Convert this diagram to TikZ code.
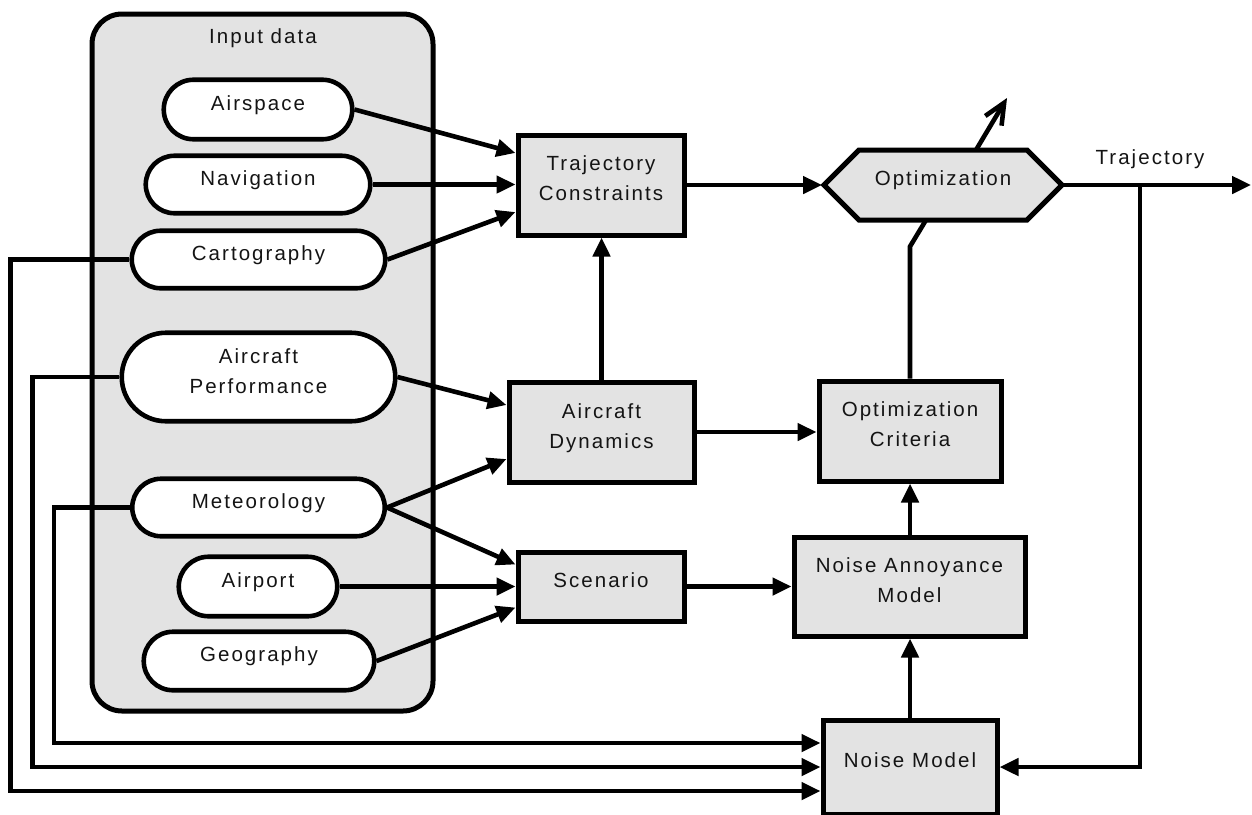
\documentclass[tikz,border=0pt]{standalone}
\usepackage{fontspec}
\setmainfont[LetterSpace=10]{Liberation Sans}
\usetikzlibrary{shapes.misc,arrows.meta,calc}
\definecolor{boxgray}{RGB}{227,227,227}
\definecolor{inkgray}{RGB}{20,20,20}
\begin{document}
\begin{tikzpicture}[x=1pt,y=-1pt,
  every node/.style={font=\fontsize{20.5}{30}\selectfont, text=inkgray},
  oval/.style={rounded rectangle, draw, fill=white, line width=4.6pt, inner sep=0pt},
  blk/.style={rectangle, draw, fill=boxgray, line width=5pt, inner sep=0pt},
  lbl/.style={anchor=base, align=center, inner sep=0pt},
  conn/.style={line width=4.6pt},
  arr/.style={conn, -{Triangle[length=19pt,width=17pt]}},
]
\useasboundingbox (0,0) rectangle (1252,814);

% input data frame
\node[blk, rounded corners=30pt, minimum width=341pt, minimum height=697pt] (input) at (262.5,362.5) {};
\node[lbl] (inputlbl) at (263,43) {Input data};

% input ovals
\node[oval, minimum width=188.5pt, minimum height=59.5pt] (airspace) at (258,109.5) {};
\node[oval, minimum width=224.5pt, minimum height=57.5pt] (navigation) at (258,184.5) {};
\node[oval, minimum width=253.5pt, minimum height=57.5pt] (cartography) at (258.5,259.5) {};
\node[oval, minimum width=273.5pt, minimum height=88.5pt] (perf) at (258.5,377) {};
\node[oval, minimum width=252.5pt, minimum height=57.5pt] (meteo) at (258.5,507.5) {};
\node[oval, minimum width=158.5pt, minimum height=59.5pt] (airport) at (258,586.5) {};
\node[oval, minimum width=230.5pt, minimum height=58.5pt] (geography) at (259,661) {};

\node[lbl] (airspace-t) at ([yshift=-0.5pt]airspace.center) {Airspace};
\node[lbl] (navigation-t) at ([yshift=-0.5pt]navigation.center) {Navigation};
\node[lbl] (cartography-t) at ([yshift=-0.5pt]cartography.center) {Cartography};
\node[lbl] (perf-t) at ([yshift=-16pt]perf.center) {Aircraft\\Performance};
\node[lbl] (meteo-t) at ([yshift=-1pt]meteo.center) {Meteorology};
\node[lbl] (airport-t) at ([yshift=-0.5pt]airport.center) {Airport};
\node[lbl] (geography-t) at ([yshift=-0.5pt]geography.center) {Geography};

% blocks
\node[blk, minimum width=166pt, minimum height=100pt] (tc) at (601,185) {};
\node[blk, minimum width=185pt, minimum height=100pt] (ad) at (601.5,432) {};
\node[blk, minimum width=166pt, minimum height=69pt] (sc) at (601,586.5) {};
\node[blk, minimum width=182pt, minimum height=100pt] (oc) at (910,431) {};
\node[blk, minimum width=231pt, minimum height=99pt] (na) at (909.5,586.5) {};
\node[blk, minimum width=174pt, minimum height=94pt] (nm) at (910,767) {};

\node[lbl] (tc-t) at ([yshift=-15pt]tc.center) {Trajectory\\Constraints};
\node[lbl] (ad-t) at ([yshift=-16pt]ad.center) {Aircraft\\Dynamics};
\node[lbl] (sc-t) at ([yshift=-1pt]sc.center) {Scenario};
\node[lbl] (oc-t) at ([yshift=-15.5pt]oc.center) {Optimization\\Criteria};
\node[lbl] (na-t) at ([yshift=-15.5pt]na.center) {Noise Annoyance\\Model};
\node[lbl] (nm-t) at ([yshift=-0.5pt]nm.center) {Noise Model};

% optimization hexagon
\node[minimum width=238pt, minimum height=70pt, outer sep=0pt, inner sep=0pt] (opt) at (943,185) {};
\draw[line width=5pt, fill=boxgray] (opt.west) -- ([xshift=35pt]opt.north west) -- ([xshift=-35pt]opt.north east)
  -- (opt.east) -- ([xshift=-35pt]opt.south east) -- ([xshift=35pt]opt.south west) -- cycle;
\node[lbl] (opt-t) at ([yshift=-0.5pt]opt.center) {Optimization};

% connectors
\draw[arr] (airspace.east) -- ([yshift=32pt]tc.west);
\draw[arr] (navigation.east) -- (navigation.east -| tc.west);
\draw[arr] (cartography.east) -- ([yshift=-27pt]tc.west);
\draw[arr] (ad.north) -- (ad.north |- tc.south);
\draw[arr] (tc.east) -- ([xshift=-2pt]opt.west);
\draw[arr] (perf.east) -- ([yshift=27pt]ad.west);
\draw[arr] (meteo.east) -- ([yshift=-27pt]ad.west);
\draw[arr] (meteo.east) -- ([yshift=22pt]sc.west);
\draw[arr] (airport.east) -- (airport.east -| sc.west);
\draw[arr] (geography.east) -- ([yshift=-21pt]sc.west);
\draw[arr] (ad.east) -- (ad.east -| oc.west);
\draw[arr] (sc.east) -- (sc.east -| na.west);
\draw[arr] (oc.south |- na.north) -- (oc.south);
\draw[arr] (nm.north) -- (nm.north |- na.south);
\draw[conn] (oc.north) -- ++(0,-132) -- ([xshift=-17pt]opt.south);

\coordinate (outtip) at (1007,98);
\draw[conn, -{Straight Barb[length=21pt,width=19pt]}] ([xshift=33pt]opt.north) -- (outtip);

\coordinate (trajend) at (1251,185);
\draw[arr] ([xshift=2pt]opt.east) -- (trajend);
\node[lbl] (trajlbl) at (1150,164) {Trajectory};
\coordinate (branch) at (1140,185);
\draw[arr] (branch) -- (branch |- nm.east) -- (nm.east);

\draw[arr] (meteo.west) -- ++(-76,0) |- ([yshift=24pt]nm.west);
\draw[arr] (perf.west) -- ++(-87,0) |- (nm.west);
\draw[arr] (cartography.west) -- ++(-119,0) |- ([yshift=-24pt]nm.west);
\end{tikzpicture}
\end{document}
